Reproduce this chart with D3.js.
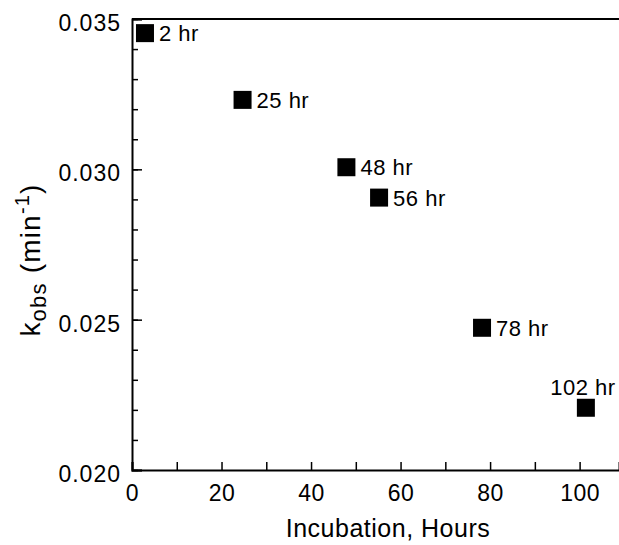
<!DOCTYPE html>
<html lang="en">
<head>
    <meta charset="utf-8">
    <title>kobs vs incubation</title>
    <script src="https://cdnjs.cloudflare.com/ajax/libs/d3/7.8.5/d3.min.js"></script>
    <style>
        body { margin: 0; background: #fff; }
        svg { display: block; font-family: "Liberation Sans", Arial, sans-serif; }
    </style>
</head>
<body>
<svg id="chart" width="619" height="545"></svg>
<script>
    // data
    var hours  = [2.9, 24.7, 47.9, 55.2, 78.2, 101.4];
    var kobs   = [0.03453, 0.03231, 0.03007, 0.02906, 0.02473, 0.02207];
    var labels = ["2 hr", "25 hr", "48 hr", "56 hr", "78 hr", "102 hr"];
    var xTicks = [0, 20, 40, 60, 80, 100];
    var yTicks = [0.020, 0.025, 0.030, 0.035];

    var svg = d3.select("#chart");
    var width = 619, height = 545;
    var margin = {top: 19, right: 0, bottom: 75, left: 132};

    var x = d3.scaleLinear().domain([0, 108.8]).range([margin.left, width - margin.right]);
    var y = d3.scaleLinear().domain([0.020, 0.035]).range([height - margin.bottom, margin.top]);

    // minor ticks (inward)
    var yAxisMinor = d3.axisLeft(y).tickValues(d3.range(0.020, 0.0351, 0.001)).tickSize(-6).tickFormat("");
    var yAxis = d3.axisLeft(y).tickValues(yTicks).tickSize(-10).tickPadding(11).tickFormat(d3.format(".3f"));
    var xAxis = d3.axisBottom(x).tickValues(d3.range(0, 109, 10)).tickSize(-8).tickPadding(15)
        .tickFormat(function (d) { return xTicks.indexOf(d) >= 0 ? d : ""; });

    var gy1 = svg.append("g").attr("transform", "translate(" + margin.left + ",0)").call(yAxisMinor);
    var gy = svg.append("g").attr("transform", "translate(" + margin.left + ",0)").call(yAxis);
    var gx = svg.append("g").attr("transform", "translate(0," + (height - margin.bottom) + ")").call(xAxis);

    [gy1, gy, gx].forEach(function (g) {
        g.select(".domain").attr("stroke", "#000").attr("stroke-width", 2);
        g.selectAll(".tick line").attr("stroke", "#000").attr("stroke-width", 1.5);
    });
    gy1.select(".domain").remove();

    gy.selectAll(".tick text")
        .attr("font-size", 23)
        .attr("letter-spacing", 1)
        .attr("dy", "0.5em")
        .attr("fill", "#000");
    gx.selectAll(".tick text")
        .attr("font-size", 23)
        .attr("letter-spacing", 0.5)
        .attr("fill", "#000");

    // top frame line
    svg.append("line")
        .attr("x1", x(0)).attr("x2", width)
        .attr("y1", y(0.035)).attr("y2", y(0.035))
        .attr("stroke", "#000").attr("stroke-width", 2);

    // points
    var pts = hours.map(function (h, i) { return {h: h, k: kobs[i], label: labels[i]}; });
    var sq = 18;

    svg.append("g").selectAll("rect")
        .data(pts)
        .enter().append("rect")
        .attr("x", function (d) { return x(d.h) - sq / 2; })
        .attr("y", function (d) { return y(d.k) - sq / 2; })
        .attr("width", sq)
        .attr("height", sq)
        .attr("fill", "#000");

    svg.append("g").selectAll("text")
        .data(pts)
        .enter().append("text")
        .attr("font-size", 22)
        .attr("letter-spacing", 0.5)
        .attr("fill", "#000")
        .attr("text-anchor", function (d) { return d.h > 100 ? "middle" : "start"; })
        .attr("x", function (d) { return d.h > 100 ? x(d.h) - 3 : x(d.h) + sq / 2 + 5; })
        .attr("y", function (d) { return d.h > 100 ? y(d.k) - sq / 2 - 4 : y(d.k) + 8; })
        .text(function (d) { return d.label; });

    // axis titles
    svg.append("text")
        .attr("x", 388).attr("y", 537)
        .attr("text-anchor", "middle")
        .attr("font-size", 25)
        .attr("letter-spacing", 0.5)
        .text("Incubation, Hours");

    var yt = svg.append("text")
        .attr("transform", "translate(40,260) rotate(-90)")
        .attr("text-anchor", "middle")
        .attr("font-size", 28)
        .attr("letter-spacing", 1.2);
    yt.append("tspan").text("k");
    yt.append("tspan").attr("font-size", 22).attr("dy", 6).text("obs");
    yt.append("tspan").attr("dy", -6).text(" (min");
    yt.append("tspan").attr("font-size", 20).attr("dy", -11).text("-1");
    yt.append("tspan").attr("dy", 11).text(")");
</script>
</body>
</html>
